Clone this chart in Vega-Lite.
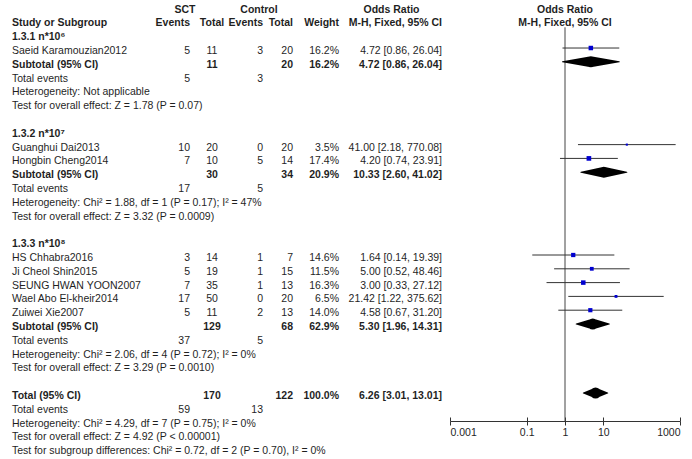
{
  "$schema": "https://vega.github.io/schema/vega-lite/v6.json",
  "padding": {"left": 5, "top": 0, "right": 0, "bottom": 0},
  "spacing": 0,
  "bounds": "flush",
  "config": {
    "view": {"stroke": null},
    "text": {"font": "Liberation Sans", "fontSize": 10.5, "baseline": "middle", "dy": 3, "color": "#1f1f1f"}
  },
  "datasets": {
    "header": [
      {"row": -2, "sct_e": "SCT", "ctl_e": "Control", "or_text": "Odds Ratio"},
      {"row": -1, "study": "Study or Subgroup", "sct_e": "Events", "sct_t": "Total", "ctl_e": "Events", "ctl_t": "Total", "weight": "Weight", "or_text": "M-H, Fixed, 95% CI"}
    ],
    "rows": [
      {"row": 0, "kind": "heading", "study": "1.3.1 n*10⁶"},
      {"row": 1, "kind": "study", "study": "Saeid Karamouzian2012", "sct_e": 5, "sct_t": 11, "ctl_e": 3, "ctl_t": 20, "weight": 0.162, "or": 4.72, "lo": 0.86, "hi": 26.04},
      {"row": 2, "kind": "subtotal", "study": "Subtotal (95% CI)", "sct_t": 11, "ctl_t": 20, "weight": 0.162, "or": 4.72, "lo": 0.86, "hi": 26.04},
      {"row": 3, "kind": "events", "study": "Total events", "sct_e": 5, "ctl_e": 3},
      {"row": 4, "kind": "info", "study": "Heterogeneity: Not applicable"},
      {"row": 5, "kind": "info", "study": "Test for overall effect: Z = 1.78 (P = 0.07)"},
      {"row": 7, "kind": "heading", "study": "1.3.2 n*10⁷"},
      {"row": 8, "kind": "study", "study": "Guanghui Dai2013", "sct_e": 10, "sct_t": 20, "ctl_e": 0, "ctl_t": 20, "weight": 0.035, "or": 41.0, "lo": 2.18, "hi": 770.08},
      {"row": 9, "kind": "study", "study": "Hongbin Cheng2014", "sct_e": 7, "sct_t": 10, "ctl_e": 5, "ctl_t": 14, "weight": 0.174, "or": 4.2, "lo": 0.74, "hi": 23.91},
      {"row": 10, "kind": "subtotal", "study": "Subtotal (95% CI)", "sct_t": 30, "ctl_t": 34, "weight": 0.209, "or": 10.33, "lo": 2.6, "hi": 41.02},
      {"row": 11, "kind": "events", "study": "Total events", "sct_e": 17, "ctl_e": 5},
      {"row": 12, "kind": "info", "study": "Heterogeneity: Chi² = 1.88, df = 1 (P = 0.17); I² = 47%"},
      {"row": 13, "kind": "info", "study": "Test for overall effect: Z = 3.32 (P = 0.0009)"},
      {"row": 15, "kind": "heading", "study": "1.3.3 n*10⁸"},
      {"row": 16, "kind": "study", "study": "HS Chhabra2016", "sct_e": 3, "sct_t": 14, "ctl_e": 1, "ctl_t": 7, "weight": 0.146, "or": 1.64, "lo": 0.14, "hi": 19.39},
      {"row": 17, "kind": "study", "study": "Ji Cheol Shin2015", "sct_e": 5, "sct_t": 19, "ctl_e": 1, "ctl_t": 15, "weight": 0.115, "or": 5.0, "lo": 0.52, "hi": 48.46},
      {"row": 18, "kind": "study", "study": "SEUNG HWAN YOON2007", "sct_e": 7, "sct_t": 35, "ctl_e": 1, "ctl_t": 13, "weight": 0.163, "or": 3.0, "lo": 0.33, "hi": 27.12},
      {"row": 19, "kind": "study", "study": "Wael Abo El-kheir2014", "sct_e": 17, "sct_t": 50, "ctl_e": 0, "ctl_t": 20, "weight": 0.065, "or": 21.42, "lo": 1.22, "hi": 375.62},
      {"row": 20, "kind": "study", "study": "Zuiwei Xie2007", "sct_e": 5, "sct_t": 11, "ctl_e": 2, "ctl_t": 13, "weight": 0.14, "or": 4.58, "lo": 0.67, "hi": 31.2},
      {"row": 21, "kind": "subtotal", "study": "Subtotal (95% CI)", "sct_t": 129, "ctl_t": 68, "weight": 0.629, "or": 5.3, "lo": 1.96, "hi": 14.31},
      {"row": 22, "kind": "events", "study": "Total events", "sct_e": 37, "ctl_e": 5},
      {"row": 23, "kind": "info", "study": "Heterogeneity: Chi² = 2.06, df = 4 (P = 0.72); I² = 0%"},
      {"row": 24, "kind": "info", "study": "Test for overall effect: Z = 3.29 (P = 0.0010)"},
      {"row": 26, "kind": "total", "study": "Total (95% CI)", "sct_t": 170, "ctl_t": 122, "weight": 1.0, "or": 6.26, "lo": 3.01, "hi": 13.01},
      {"row": 27, "kind": "events", "study": "Total events", "sct_e": 59, "ctl_e": 13},
      {"row": 28, "kind": "info", "study": "Heterogeneity: Chi² = 4.29, df = 7 (P = 0.75); I² = 0%"},
      {"row": 29, "kind": "info", "study": "Test for overall effect: Z = 4.92 (P < 0.00001)"},
      {"row": 30, "kind": "info", "study": "Test for subgroup differences: Chi² = 0.72, df = 2 (P = 0.70), I² = 0%"}
    ]
  },
  "hconcat": [
    {
      "width": 155, "height": 459,
      "encoding": {"y": {"field": "row", "type": "quantitative", "scale": {"domain": [-2.48, 30.78], "reverse": true, "nice": false, "zero": false}, "axis": null}},
      "layer": [
        {"data": {"values": [{}]}, "mark": {"type": "rule", "color": "#555", "strokeWidth": 1.5}, "encoding": {"y": {"datum": -0.5, "type": "quantitative"}}},
        {"data": {"name": "header"}, "transform": [{"filter": "isValid(datum.study)"}], "mark": {"type": "text", "align": "left", "dx": 7, "fontWeight": "bold"}, "encoding": {"x": {"datum": 0, "type": "quantitative", "scale": {"domain": [0, 1], "nice": false, "zero": false}, "axis": null}, "text": {"field": "study", "type": "nominal"}}},
        {"data": {"name": "rows"}, "transform": [{"filter": "datum.kind == 'study' || datum.kind == 'events' || datum.kind == 'info'"}], "mark": {"type": "text", "align": "left", "dx": 7}, "encoding": {"x": {"datum": 0, "type": "quantitative", "scale": {"domain": [0, 1], "nice": false, "zero": false}, "axis": null}, "text": {"field": "study", "type": "nominal"}}},
        {"data": {"name": "rows"}, "transform": [{"filter": "datum.kind == 'heading' || datum.kind == 'subtotal' || datum.kind == 'total'"}], "mark": {"type": "text", "align": "left", "dx": 7, "fontWeight": "bold"}, "encoding": {"x": {"datum": 0, "type": "quantitative", "scale": {"domain": [0, 1], "nice": false, "zero": false}, "axis": null}, "text": {"field": "study", "type": "nominal"}}}
      ]
    },
    {
      "width": 30, "height": 459,
      "encoding": {"y": {"field": "row", "type": "quantitative", "scale": {"domain": [-2.48, 30.78], "reverse": true, "nice": false, "zero": false}, "axis": null}},
      "layer": [
        {"data": {"values": [{}]}, "mark": {"type": "rule", "color": "#555", "strokeWidth": 1.5}, "encoding": {"y": {"datum": -0.5, "type": "quantitative"}}},
        {"data": {"name": "header"}, "transform": [{"filter": "datum.row == -2"}], "mark": {"type": "text", "align": "center", "dx": -5, "fontWeight": "bold"}, "encoding": {"x": {"datum": 1, "type": "quantitative", "scale": {"domain": [0, 1], "nice": false, "zero": false}, "axis": null}, "text": {"field": "sct_e", "type": "nominal"}}},
        {"data": {"name": "header"}, "transform": [{"filter": "datum.row == -1"}], "mark": {"type": "text", "align": "right", "fontWeight": "bold"}, "encoding": {"x": {"datum": 1, "type": "quantitative", "scale": {"domain": [0, 1], "nice": false, "zero": false}, "axis": null}, "text": {"field": "sct_e", "type": "nominal"}}},
        {"data": {"name": "rows"}, "transform": [{"filter": "isValid(datum.sct_e)"}], "mark": {"type": "text", "align": "right"}, "encoding": {"x": {"datum": 1, "type": "quantitative", "scale": {"domain": [0, 1], "nice": false, "zero": false}, "axis": null}, "text": {"field": "sct_e", "type": "nominal"}}}
      ]
    },
    {
      "width": 44, "height": 459,
      "encoding": {"y": {"field": "row", "type": "quantitative", "scale": {"domain": [-2.48, 30.78], "reverse": true, "nice": false, "zero": false}, "axis": null}},
      "layer": [
        {"data": {"values": [{}]}, "mark": {"type": "rule", "color": "#555", "strokeWidth": 1.5}, "encoding": {"y": {"datum": -0.5, "type": "quantitative"}}},
        {"data": {"name": "header"}, "transform": [{"filter": "isValid(datum.sct_t)"}], "mark": {"type": "text", "align": "center", "fontWeight": "bold"}, "encoding": {"x": {"datum": 0.5, "type": "quantitative", "scale": {"domain": [0, 1], "nice": false, "zero": false}, "axis": null}, "text": {"field": "sct_t", "type": "nominal"}}},
        {"data": {"name": "rows"}, "transform": [{"filter": "isValid(datum.sct_t) && datum.kind == 'study'"}], "mark": {"type": "text", "align": "center"}, "encoding": {"x": {"datum": 0.5, "type": "quantitative", "scale": {"domain": [0, 1], "nice": false, "zero": false}, "axis": null}, "text": {"field": "sct_t", "type": "nominal"}}},
        {"data": {"name": "rows"}, "transform": [{"filter": "isValid(datum.sct_t) && datum.kind != 'study'"}], "mark": {"type": "text", "align": "center", "fontWeight": "bold"}, "encoding": {"x": {"datum": 0.5, "type": "quantitative", "scale": {"domain": [0, 1], "nice": false, "zero": false}, "axis": null}, "text": {"field": "sct_t", "type": "nominal"}}}
      ]
    },
    {
      "width": 29, "height": 459,
      "encoding": {"y": {"field": "row", "type": "quantitative", "scale": {"domain": [-2.48, 30.78], "reverse": true, "nice": false, "zero": false}, "axis": null}},
      "layer": [
        {"data": {"values": [{}]}, "mark": {"type": "rule", "color": "#555", "strokeWidth": 1.5}, "encoding": {"y": {"datum": -0.5, "type": "quantitative"}}},
        {"data": {"name": "header"}, "transform": [{"filter": "datum.row == -2"}], "mark": {"type": "text", "align": "center", "dx": -4, "fontWeight": "bold"}, "encoding": {"x": {"datum": 1, "type": "quantitative", "scale": {"domain": [0, 1], "nice": false, "zero": false}, "axis": null}, "text": {"field": "ctl_e", "type": "nominal"}}},
        {"data": {"name": "header"}, "transform": [{"filter": "datum.row == -1"}], "mark": {"type": "text", "align": "right", "fontWeight": "bold"}, "encoding": {"x": {"datum": 1, "type": "quantitative", "scale": {"domain": [0, 1], "nice": false, "zero": false}, "axis": null}, "text": {"field": "ctl_e", "type": "nominal"}}},
        {"data": {"name": "rows"}, "transform": [{"filter": "isValid(datum.ctl_e)"}], "mark": {"type": "text", "align": "right"}, "encoding": {"x": {"datum": 1, "type": "quantitative", "scale": {"domain": [0, 1], "nice": false, "zero": false}, "axis": null}, "text": {"field": "ctl_e", "type": "nominal"}}}
      ]
    },
    {
      "width": 30, "height": 459,
      "encoding": {"y": {"field": "row", "type": "quantitative", "scale": {"domain": [-2.48, 30.78], "reverse": true, "nice": false, "zero": false}, "axis": null}},
      "layer": [
        {"data": {"values": [{}]}, "mark": {"type": "rule", "color": "#555", "strokeWidth": 1.5}, "encoding": {"y": {"datum": -0.5, "type": "quantitative"}}},
        {"data": {"name": "header"}, "transform": [{"filter": "isValid(datum.ctl_t)"}], "mark": {"type": "text", "align": "right", "fontWeight": "bold"}, "encoding": {"x": {"datum": 1, "type": "quantitative", "scale": {"domain": [0, 1], "nice": false, "zero": false}, "axis": null}, "text": {"field": "ctl_t", "type": "nominal"}}},
        {"data": {"name": "rows"}, "transform": [{"filter": "isValid(datum.ctl_t) && datum.kind == 'study'"}], "mark": {"type": "text", "align": "right"}, "encoding": {"x": {"datum": 1, "type": "quantitative", "scale": {"domain": [0, 1], "nice": false, "zero": false}, "axis": null}, "text": {"field": "ctl_t", "type": "nominal"}}},
        {"data": {"name": "rows"}, "transform": [{"filter": "isValid(datum.ctl_t) && datum.kind != 'study'"}], "mark": {"type": "text", "align": "right", "fontWeight": "bold"}, "encoding": {"x": {"datum": 1, "type": "quantitative", "scale": {"domain": [0, 1], "nice": false, "zero": false}, "axis": null}, "text": {"field": "ctl_t", "type": "nominal"}}}
      ]
    },
    {
      "width": 46, "height": 459,
      "encoding": {"y": {"field": "row", "type": "quantitative", "scale": {"domain": [-2.48, 30.78], "reverse": true, "nice": false, "zero": false}, "axis": null}},
      "layer": [
        {"data": {"values": [{}]}, "mark": {"type": "rule", "color": "#555", "strokeWidth": 1.5}, "encoding": {"y": {"datum": -0.5, "type": "quantitative"}}},
        {"data": {"name": "header"}, "transform": [{"filter": "isValid(datum.weight)"}], "mark": {"type": "text", "align": "right", "fontWeight": "bold"}, "encoding": {"x": {"datum": 1, "type": "quantitative", "scale": {"domain": [0, 1], "nice": false, "zero": false}, "axis": null}, "text": {"field": "weight", "type": "nominal"}}},
        {"data": {"name": "rows"}, "transform": [{"filter": "isValid(datum.weight) && datum.kind == 'study'"}], "mark": {"type": "text", "align": "right"}, "encoding": {"x": {"datum": 1, "type": "quantitative", "scale": {"domain": [0, 1], "nice": false, "zero": false}, "axis": null}, "text": {"field": "weight", "type": "quantitative", "format": ".1%"}}},
        {"data": {"name": "rows"}, "transform": [{"filter": "isValid(datum.weight) && datum.kind != 'study'"}], "mark": {"type": "text", "align": "right", "fontWeight": "bold"}, "encoding": {"x": {"datum": 1, "type": "quantitative", "scale": {"domain": [0, 1], "nice": false, "zero": false}, "axis": null}, "text": {"field": "weight", "type": "quantitative", "format": ".1%"}}}
      ]
    },
    {
      "width": 111, "height": 459,
      "encoding": {"y": {"field": "row", "type": "quantitative", "scale": {"domain": [-2.48, 30.78], "reverse": true, "nice": false, "zero": false}, "axis": null}},
      "layer": [
        {"data": {"values": [{}]}, "mark": {"type": "rule", "color": "#555", "strokeWidth": 1.5}, "encoding": {"y": {"datum": -0.5, "type": "quantitative"}}},
        {"data": {"name": "header"}, "transform": [{"filter": "datum.row == -2"}], "mark": {"type": "text", "align": "center", "dx": -3, "fontWeight": "bold"}, "encoding": {"x": {"datum": 0.5, "type": "quantitative", "scale": {"domain": [0, 1], "nice": false, "zero": false}, "axis": null}, "text": {"field": "or_text", "type": "nominal"}}},
        {"data": {"name": "header"}, "transform": [{"filter": "datum.row == -1"}], "mark": {"type": "text", "align": "right", "dx": -8, "fontWeight": "bold"}, "encoding": {"x": {"datum": 1, "type": "quantitative", "scale": {"domain": [0, 1], "nice": false, "zero": false}, "axis": null}, "text": {"field": "or_text", "type": "nominal"}}},
        {"data": {"name": "rows"}, "transform": [{"filter": "isValid(datum.or) && datum.kind == 'study'"}], "mark": {"type": "text", "align": "right", "dx": -8, "text": {"expr": "format(datum.or, '.2f') + ' [' + format(datum.lo, '.2f') + ', ' + format(datum.hi, '.2f') + ']'"}}, "encoding": {"x": {"datum": 1, "type": "quantitative", "scale": {"domain": [0, 1], "nice": false, "zero": false}, "axis": null}}},
        {"data": {"name": "rows"}, "transform": [{"filter": "isValid(datum.or) && datum.kind != 'study'"}], "mark": {"type": "text", "align": "right", "dx": -8, "fontWeight": "bold", "text": {"expr": "format(datum.or, '.2f') + ' [' + format(datum.lo, '.2f') + ', ' + format(datum.hi, '.2f') + ']'"}}, "encoding": {"x": {"datum": 1, "type": "quantitative", "scale": {"domain": [0, 1], "nice": false, "zero": false}, "axis": null}}}
      ]
    },
    {
      "width": 242, "height": 421,
      "encoding": {"y": {"field": "row", "type": "quantitative", "scale": {"domain": [-2.48, 28.03], "reverse": true, "nice": false, "zero": false}, "axis": null}},
      "resolve": {"axis": {"x": "independent"}},
      "layer": [
        {"data": {"values": [{}]}, "mark": {"type": "rule", "color": "#555", "strokeWidth": 1.5}, "encoding": {"y": {"datum": -0.5, "type": "quantitative"}}},
        {"data": {"name": "header"}, "transform": [{"filter": "datum.row == -1"}], "mark": {"type": "rule", "color": "#444", "strokeWidth": 1},
         "encoding": {
           "x": {"datum": 1, "type": "quantitative", "scale": {"type": "log", "domain": [0.001, 1000], "range": [0, 230], "nice": false}, "axis": null},
           "y": {"datum": -0.5, "type": "quantitative"},
           "y2": {"datum": 28.03}
         }},
        {"data": {"name": "rows"}, "transform": [{"filter": "datum.kind == 'study'"}], "mark": {"type": "rule", "color": "#333", "strokeWidth": 1},
         "encoding": {
           "x": {"field": "lo", "type": "quantitative", "scale": {"type": "log", "domain": [0.001, 1000], "range": [0, 230], "nice": false},
                 "axis": {"orient": "bottom", "values": [0.001, 0.1, 1, 10, 1000], "labelExpr": "format(datum.value, '~g')", "title": null, "grid": false, "domainColor": "#333", "tickColor": "#333", "tickSize": 4, "labelFont": "Liberation Sans", "labelFontSize": 10.5, "labelColor": "#1f1f1f", "labelPadding": 2, "labelFlush": true}},
           "x2": {"field": "hi"}
         }},
        {"data": {"name": "rows"}, "transform": [{"filter": "datum.kind == 'study'"}], "mark": {"type": "point", "shape": "square", "filled": true, "color": "#0000d0", "opacity": 1, "strokeWidth": 0},
         "encoding": {
           "x": {"field": "or", "type": "quantitative", "axis": {"orient": "bottom", "values": [0.001, 0.1, 1, 10, 1000], "labels": false, "domain": false, "tickSize": -4, "tickColor": "#333", "grid": false, "title": null}},
           "size": {"field": "weight", "type": "quantitative", "scale": {"domain": [0, 0.2], "range": [0, 25]}, "legend": null}
         }},
        {"data": {"name": "rows"}, "transform": [{"filter": "datum.kind == 'subtotal' || datum.kind == 'total'"}, {"fold": ["lo", "or", "hi"], "as": ["vertex", "ci"]}],
         "mark": {"type": "trail", "color": "#000"},
         "encoding": {
           "x": {"field": "ci", "type": "quantitative", "axis": null},
           "detail": {"field": "row", "type": "nominal"},
           "order": {"field": "ci", "type": "quantitative"},
           "size": {"condition": {"test": "datum.vertex == 'or'", "value": 11}, "value": 0}
         }},
        {"data": {"name": "header"}, "mark": {"type": "text", "align": "center", "fontWeight": "bold"},
         "encoding": {"x": {"datum": 1, "type": "quantitative", "axis": null}, "text": {"field": "or_text", "type": "nominal"}}},
        {"data": {"values": [{"label": "Favours [control]"}]}, "mark": {"type": "text", "align": "right", "dx": -5},
         "encoding": {"x": {"datum": 1, "type": "quantitative", "axis": null}, "y": {"datum": 29.4, "type": "quantitative"}, "text": {"field": "label", "type": "nominal"}}},
        {"data": {"values": [{"label": "Favours [SCT]"}]}, "mark": {"type": "text", "align": "left", "dx": 5},
         "encoding": {"x": {"datum": 1, "type": "quantitative", "axis": null}, "y": {"datum": 29.4, "type": "quantitative"}, "text": {"field": "label", "type": "nominal"}}}
      ]
    }
  ]
}
